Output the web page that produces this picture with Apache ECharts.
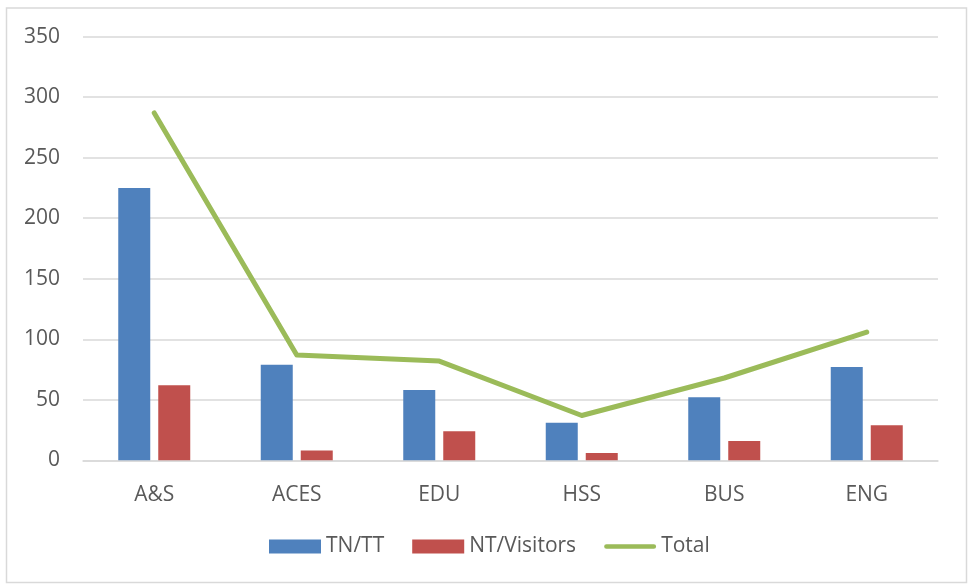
<!DOCTYPE html>
<html>
<head>
<meta charset="utf-8">
<script src="https://cdn.jsdelivr.net/npm/echarts@6/dist/echarts.min.js"></script>
<style>
html,body{margin:0;padding:0;background:#fff;}
#chart{width:969px;height:587px;}
</style>
</head>
<body>
<div id="chart"></div>
<script>
var categories = ['A&S', 'ACES', 'EDU', 'HSS', 'BUS', 'ENG'];
var tnTT = [225, 79, 58, 31, 52, 77];
var ntVisitors = [62, 8, 24, 6, 16, 29];
var total = [287, 87, 82, 37, 68, 106];
var yTicks = [0, 50, 100, 150, 200, 250, 300, 350];

var font = '"Open Sans", "Liberation Sans", sans-serif';
var chart = echarts.init(document.getElementById('chart'));
chart.setOption({
  animation: false,
  backgroundColor: '#fff',
  graphic: [{
    type: 'rect',
    shape: {x: 6.5, y: 8, width: 960, height: 574.5},
    style: {fill: 'none', stroke: '#D9D9D9', lineWidth: 1.5},
    silent: true
  }],
  grid: {left: 83, right: 31, top: 36.7, bottom: 126.7},
  legend: {
    top: 531,
    left: 264,
    padding: 5,
    itemWidth: 52,
    itemHeight: 14,
    itemGap: 28,
    textStyle: {color: '#595959', fontSize: 21, fontFamily: font, padding: [8, 0, 0, 0]},
    data: [
      {name: 'TN/TT', icon: 'rect'},
      {name: 'NT/Visitors', icon: 'rect'},
      {name: 'Total', icon: 'path://M2.5,0 L53.5,0 A2.5,2.5 0 0 1 53.5,5 L2.5,5 A2.5,2.5 0 0 1 2.5,0 Z'}
    ]
  },
  xAxis: {
    type: 'category',
    data: categories,
    axisLine: {show: true, lineStyle: {color: '#D9D9D9', width: 1.5}},
    axisTick: {show: false},
    axisLabel: {color: '#595959', fontSize: 21, fontFamily: font, margin: 24}
  },
  yAxis: {
    type: 'value',
    min: yTicks[0],
    max: yTicks[yTicks.length - 1],
    interval: 50,
    axisLine: {show: false},
    axisTick: {show: false},
    axisLabel: {color: '#595959', fontSize: 21, fontFamily: font, margin: 23, padding: [8, 0, 0, 0]},
    splitLine: {lineStyle: {color: '#D9D9D9', width: 1.5}}
  },
  series: [
    {
      name: 'TN/TT', type: 'bar', data: tnTT,
      barWidth: 32, barGap: '25%',
      itemStyle: {color: '#4F81BD'}
    },
    {
      name: 'NT/Visitors', type: 'bar', data: ntVisitors,
      barWidth: 32,
      itemStyle: {color: '#C0504D'}
    },
    {
      name: 'Total', type: 'line', data: total,
      symbol: 'none',
      lineStyle: {color: '#9BBB59', width: 5, cap: 'round', join: 'round'},
      itemStyle: {color: '#9BBB59'}
    }
  ]
});
</script>
</body>
</html>
